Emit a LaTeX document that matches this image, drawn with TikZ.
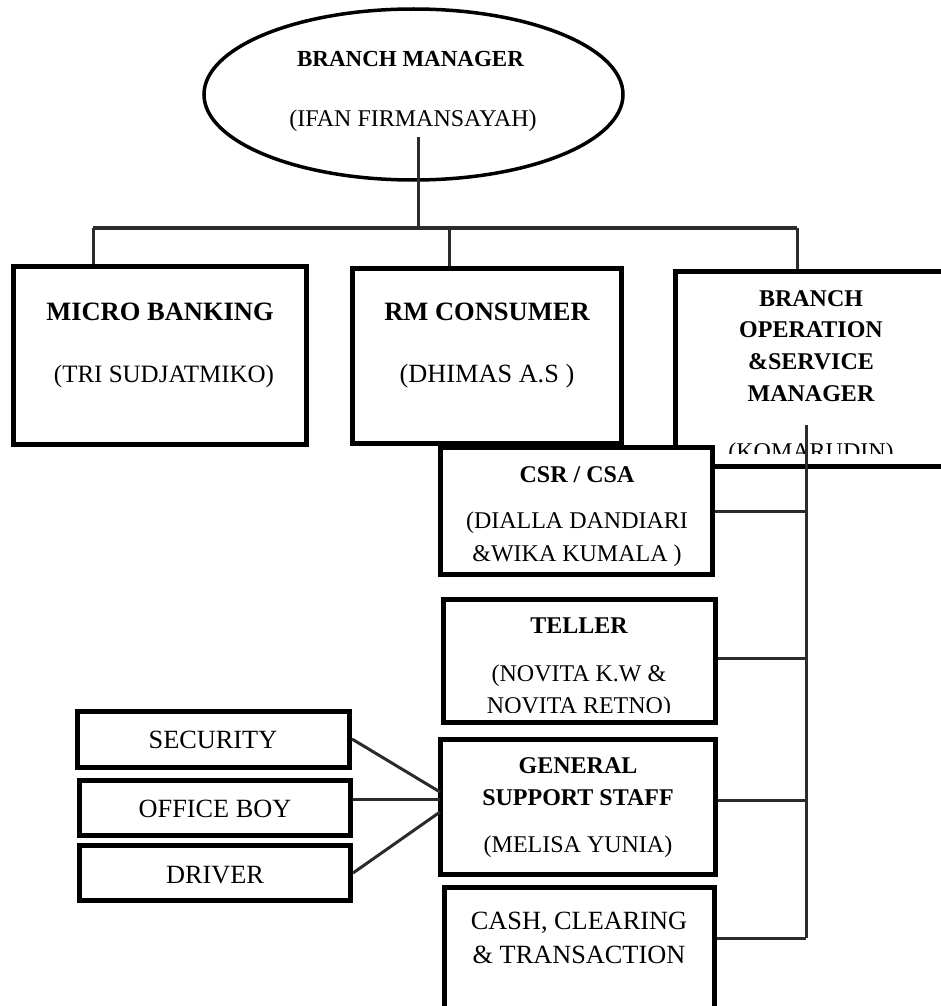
\documentclass[tikz,border=0pt]{standalone}
\usepackage{fontspec}
\setmainfont{Liberation Serif}
\usetikzlibrary{shapes.geometric}
\definecolor{linkgray}{HTML}{2B2B2B}
\begin{document}
\begin{tikzpicture}[x=1pt,y=-1pt,
  box/.style={draw=black,line width=5pt,rectangle,inner sep=0pt,fill=white},
  link/.style={draw=linkgray,line width=3pt},
  lbl/.style={anchor=base,inner sep=0pt,align=center},
  r24/.style={font=\fontsize{24}{28}\selectfont},
  b24/.style={font=\fontsize{24}{28}\selectfont\bfseries},
  r26/.style={font=\fontsize{26.3}{30}\selectfont},
  b26/.style={font=\fontsize{26.5}{30}\selectfont\bfseries},
]
\useasboundingbox (0,0) rectangle (941,1006);

% Branch manager
\node[ellipse,draw=black,line width=3.5pt,minimum width=419pt,minimum height=171pt,inner sep=0pt] (bm) at (413.5,94.5) {};
\node[lbl,font=\fontsize{23}{28}\selectfont\bfseries] (bmtitle) at (410.5,67) {BRANCH MANAGER};
\node[lbl,r24] (bmname) at (413,127) {(IFAN FIRMANSAYAH)};

% top boxes
\node[box,minimum width=293pt,minimum height=178pt] (micro) at (160,355.5) {};
\node[lbl,b26] (microtitle) at (160,320) {MICRO BANKING};
\node[lbl,font=\fontsize{25}{30}\selectfont] (microname) at (164,382) {(TRI SUDJATMIKO)};

\node[box,minimum width=269pt,minimum height=175pt] (rm) at (487,356) {};
\node[lbl,b26] (rmtitle) at (487,320) {RM CONSUMER};
\node[lbl,r26] (rmname) at (487,382) {(DHIMAS A.S )};

\node[box,minimum width=400pt,minimum height=195pt] (bosm) at (875.5,369) {};
\node[lbl,b24] (bosm1) at (811,306) {BRANCH};
\node[lbl,b24] (bosm2) at (811,337) {OPERATION};
\node[lbl,b24] (bosm3) at (811,369) {\&SERVICE};
\node[lbl,b24] (bosm4) at (811,401) {MANAGER};
\begin{scope}
  \clip (680,438) rectangle (941,453);
  \node[lbl,r24] (bosmname) at (811,459) {(KOMARUDIN)};
\end{scope}

% CSR
\node[box,minimum width=272pt,minimum height=127pt] (csr) at (576.5,511) {};
\node[lbl,b24] (csrtitle) at (577,482) {CSR / CSA};
\node[lbl,r24] (csrname1) at (577,528) {(DIALLA DANDIARI};
\node[lbl,r24] (csrname2) at (577,561) {\&WIKA KUMALA )};

% Teller
\node[box,minimum width=272pt,minimum height=123.5pt] (teller) at (579,660.75) {};
\node[lbl,b24] (tellertitle) at (579,633) {TELLER};
\node[lbl,r24] (tellername1) at (579,681) {(NOVITA K.W \&};
\begin{scope}
  \clip (446,688) rectangle (712,712);
  \node[lbl,r24] (tellername2) at (579,713) {NOVITA RETNO)};
\end{scope}

% General support staff
\node[box,minimum width=275pt,minimum height=135pt] (gss) at (578,807) {};
\node[lbl,b24] (gss1) at (578,773) {GENERAL};
\node[lbl,b24] (gss2) at (578,805) {SUPPORT STAFF};
\node[lbl,r24] (gssname) at (578,852) {(MELISA YUNIA)};

% Cash
\node[box,minimum width=270.5pt,minimum height=152.5pt] (cash) at (579.25,963.75) {};
\node[lbl,r26] (cash1) at (579,929) {CASH, CLEARING};
\node[lbl,r26] (cash2) at (579,963) {\& TRANSACTION};

% left boxes
\node[box,minimum width=272.5pt,minimum height=56pt] (security) at (213.25,739) {};
\node[lbl,r26] (securitytxt) at (213,748) {SECURITY};
\node[box,minimum width=271pt,minimum height=54.5pt] (officeboy) at (215,807.75) {};
\node[lbl,r26] (officeboytxt) at (215,817) {OFFICE BOY};
\node[box,minimum width=271pt,minimum height=55pt] (driver) at (215,873) {};
\node[lbl,r26] (drivertxt) at (215,883) {DRIVER};

% connectors from branch manager
\coordinate (trunk) at (418,137);
\coordinate (bus) at (418,228);
\coordinate (busL) at (93,228);
\coordinate (busM) at (449,228);
\coordinate (busR) at (797,228);
\draw[link] (trunk) -- (bus);
\draw[link,line width=3.5pt] (busL) -- (busR);
\draw[link] (busL) -- (busL |- micro.north);
\draw[link] (busM) -- (busM |- rm.north);
\draw[link] (busR) -- (busR |- bosm.north);

% spine from BOSM
\coordinate (spinetop) at (806,425);
\coordinate (s1) at (806,511);
\coordinate (s2) at (806,658);
\coordinate (s3) at (806,800);
\coordinate (spinebot) at (806,938);
\draw[link] (s1 -| csr.east) -- (s1);
\draw[link] (s2 -| teller.east) -- (s2);
\draw[link] (s3 -| gss.east) -- (s3);
\draw[link] (spinebot -| cash.east) -- (spinebot);
\draw[link] (spinetop) -- (spinebot);

% general support links
\coordinate (g1) at (440,792);
\coordinate (g2) at (440,799);
\coordinate (g3) at (440,812);
\draw[link] (security.east) -- (g1);
\draw[link] (g2 -| officeboy.east) -- (g2);
\draw[link] (driver.east) -- (g3);
\end{tikzpicture}
\end{document}
